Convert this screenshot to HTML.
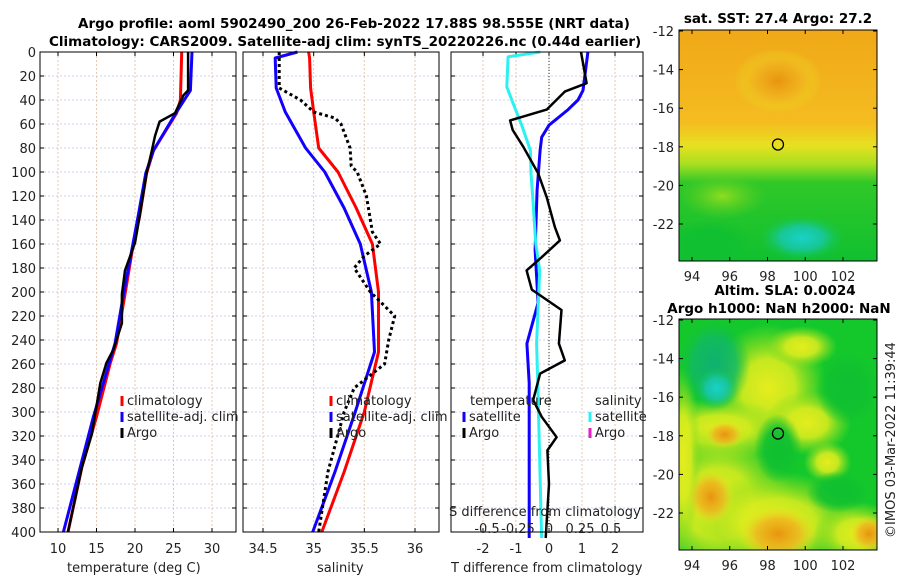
<!DOCTYPE html>
<html><head><meta charset="utf-8"><style>
body{margin:0;background:#fff}
svg{display:block;font-family:"DejaVu Sans","Liberation Sans",sans-serif}
</style></head><body>
<svg id="c" width="900" height="580" viewBox="0 0 900 580">
<defs>
<radialGradient id="cy" cx="0.5" cy="0.5" r="0.5"><stop offset="0" stop-color="#18d2c8"/><stop offset="0.5" stop-color="#18c8b0" stop-opacity="0.8"/><stop offset="1" stop-color="#10c848" stop-opacity="0"/></radialGradient>
<radialGradient id="te" cx="0.5" cy="0.5" r="0.5"><stop offset="0" stop-color="#10b070"/><stop offset="0.6" stop-color="#10b868" stop-opacity="0.8"/><stop offset="1" stop-color="#10c040" stop-opacity="0"/></radialGradient>
<radialGradient id="or" cx="0.5" cy="0.5" r="0.5"><stop offset="0" stop-color="#e8940e"/><stop offset="0.55" stop-color="#f0b420" stop-opacity="0.8"/><stop offset="1" stop-color="#e8e820" stop-opacity="0"/></radialGradient>
<radialGradient id="ye" cx="0.5" cy="0.5" r="0.5"><stop offset="0" stop-color="#e6ec1e"/><stop offset="0.45" stop-color="#d8ec1e" stop-opacity="0.9"/><stop offset="0.75" stop-color="#a0e020" stop-opacity="0.5"/><stop offset="1" stop-color="#80e020" stop-opacity="0"/></radialGradient>
<radialGradient id="lg" cx="0.5" cy="0.5" r="0.5"><stop offset="0" stop-color="#90dc20"/><stop offset="1" stop-color="#60d020" stop-opacity="0"/></radialGradient>
<radialGradient id="gr" cx="0.5" cy="0.5" r="0.5"><stop offset="0" stop-color="#10c030"/><stop offset="0.55" stop-color="#10c030" stop-opacity="0.9"/><stop offset="1" stop-color="#10c030" stop-opacity="0"/></radialGradient>
<linearGradient id="sst" x1="0" y1="0" x2="0" y2="1">
<stop offset="0" stop-color="#f0a818"/><stop offset="0.4" stop-color="#f4bc20"/><stop offset="0.5" stop-color="#e8e020"/><stop offset="0.58" stop-color="#a8e020"/><stop offset="0.66" stop-color="#30c828"/><stop offset="1" stop-color="#10c030"/></linearGradient>
</defs>
<g id="plots"></g>
</svg>
<script>
// ---- data ----
const depthTicks=[0,20,40,60,80,100,120,140,160,180,200,220,240,260,280,300,320,340,360,380,400];
const tTicks=[10,15,20,25,30];
const sTicks=[34.5,35,35.5,36];
const dTTicks=[-2,-1,0,1,2];
const dSTicks=[-0.5,-0.25,0,0.25,0.5];
const tClimDepth=[0,40,51,82,101,137,159,202,243,259,304,346,400];
const tClim=[26.07,25.9,25.4,22.4,21.5,20.6,19.8,18.7,17.6,16.8,15.0,13.1,11.3];
const tSatDepth=[0,32,51,82,101,137,202,243,304,400];
const tSat=[27.4,27.2,25.3,22.4,21.4,20.4,18.5,17.4,14.6,10.7];
const argoTDepth=[0,32,36,51,58,70,82,101,137,159,182,202,226,248,259,276,318,346,400];
const argoT=[26.9,26.9,26.3,25.2,23.2,22.6,22.2,21.5,20.6,20,18.7,18.3,18.3,17.2,16.3,15.5,14.4,13.1,11.3];
const sDepth=[0,5,30,50,80,100,130,160,200,250,300,350,400];
const sClim=[34.95,34.96,34.97,35.0,35.05,35.24,35.42,35.58,35.64,35.64,35.5,35.3,35.08];
const sSat=[34.84,34.62,34.63,34.72,34.92,35.11,35.3,35.46,35.57,35.6,35.41,35.21,34.99];
const argoSDepth=[0,30,40,50,55,60,80,95,100,120,150,160,170,180,190,200,210,220,240,260,280,300,350,400];
const argoS=[34.66,34.66,34.87,35.0,35.21,35.27,35.36,35.37,35.43,35.52,35.58,35.66,35.5,35.4,35.48,35.56,35.68,35.8,35.74,35.7,35.4,35.3,35.14,35.05];
const dTArgoDepth=[0,26,33,48,57,65,79,101,121,146,157,171,182,198,215,243,257,268,290,304,321,332,360,405];
const dTArgo=[0.97,1.14,0.48,-0.07,-1.18,-1.1,-0.78,-0.33,-0.07,0.18,0.33,-0.22,-0.68,-0.52,0.38,0.3,0.48,-0.27,-0.48,-0.22,0.23,-0.05,0,-0.1];
const dTSatDepth=[0,32,40,48,61,71,82,115,165,209,243,276,405];
const dTSat=[1.18,1.03,0.88,0.58,0,-0.22,-0.27,-0.36,-0.42,-0.33,-0.67,-0.6,-0.6];
const dSSatDepth=[0,4,29,40,61,82,101,123,159,182,243,276,405];
const dSSat=[-0.07,-0.33,-0.34,-0.30,-0.22,-0.15,-0.145,-0.13,-0.107,-0.075,-0.1,-0.09,-0.06];
const lonTicks=[94,96,98,100,102];
const latTicks=[-12,-14,-16,-18,-20,-22];
const argoLon=98.555, argoLat=-17.88;

const NS='http://www.w3.org/2000/svg';
const root=document.getElementById('plots');
function mk(tag,attrs,parent,txt){const e=document.createElementNS(NS,tag);for(const k in attrs)e.setAttribute(k,attrs[k]);if(txt!==undefined)e.textContent=txt;(parent||root).appendChild(e);return e;}
const Y0=52,Y1=532;
function yD(d){return Y0+(d/400)*(Y1-Y0);}
function lin(d0,d1,r0,r1){return v=>r0+(v-d0)/(d1-d0)*(r1-r0);}

function panel(name,x0,x1,xs,ticks,showY){
  const g=mk('g',{});
  
  
  depthTicks.forEach(d=>{mk('line',{x1:x0,x2:x1,y1:yD(d),y2:yD(d),stroke:'#c8d0f0','stroke-dasharray':'2,2','stroke-width':1},g);});
  ticks.forEach(t=>{mk('line',{x1:xs(t),x2:xs(t),y1:Y0,y2:Y1,stroke:'#e8c8b0','stroke-dasharray':'2,2','stroke-width':1},g);});
  depthTicks.forEach(d=>{mk('line',{x1:x0,x2:x0+4,y1:yD(d),y2:yD(d),stroke:'#000'},g);mk('line',{x1:x1,x2:x1-4,y1:yD(d),y2:yD(d),stroke:'#000'},g);
    if(showY){const t=mk('text',{x:x0-4,y:yD(d)+5,'text-anchor':'end','font-size':13,fill:'#222'},g,String(d));}});
  ticks.forEach(t=>{mk('line',{x1:xs(t),x2:xs(t),y1:Y1,y2:Y1-4,stroke:'#000'},g);mk('line',{x1:xs(t),x2:xs(t),y1:Y0,y2:Y0+4,stroke:'#000'},g);});
  return g;
}
function axisLabels(g,xs,ticks,y,label,ly){
  ticks.forEach(t=>{const e=mk('text',{x:xs(t),y:y,'text-anchor':'middle','font-size':13,fill:'#222'},g,String(t));});
  const e=mk('text',{x:0,y:ly,'font-size':13,fill:'#222'},g,label);return e;
}
function line(g,xs,vals,deps,color,w,dash,name){
  const p=vals.map((v,i)=>(i?'L':'M')+xs(v).toFixed(1)+','+yD(deps[i]).toFixed(1)).join('');
  const e=mk('path',{d:p,fill:'none',stroke:color,'stroke-width':w,'stroke-linejoin':'round'},g);
  if(dash)e.setAttribute('stroke-dasharray',dash);
  
}
function frame(g,x0,x1){mk('rect',{x:x0,y:Y0,width:x1-x0,height:Y1-Y0,fill:'none',stroke:'#000','stroke-width':1},g);}
function legend(g,x,y,color,text){
  const l=mk('line',{x1:x,x2:x,y1:y-9,y2:y+1,stroke:color,'stroke-width':3},g);
  
  const t=mk('text',{x:x+5,y:y,'font-size':13,fill:'#222'},g,text);
  
}

// panel 1 temperature
const xT=lin(10,30,58,212);
let g1=panel('temperature-panel',40,236,xT,tTicks,true);
line(g1,xT,tClim,tClimDepth,'#f00',3,null,'temp-climatology-line');
line(g1,xT,tSat,tSatDepth,'#10f',3,null,'temp-satellite-line');
line(g1,xT,argoT,argoTDepth,'#000',2.5,null,'temp-argo-line');
frame(g1,40,236);
axisLabels(g1,xT,tTicks,553,'temperature (deg C)',572).setAttribute('x',67);
legend(g1,122,405,'#f00','climatology');legend(g1,122,421,'#10f','satellite-adj. clim');legend(g1,122,437,'#000','Argo');

// panel 2 salinity
const xS=lin(34.5,36,263,415);
let g2=panel('salinity-panel',243,439,xS,sTicks,false);
line(g2,xS,sClim,sDepth,'#f00',3,null,'sal-climatology-line');
line(g2,xS,sSat,sDepth,'#10f',3,null,'sal-satellite-line');
line(g2,xS,argoS,argoSDepth,'#000',3,'3,3','sal-argo-line');
frame(g2,243,439);
axisLabels(g2,xS,sTicks,553,'salinity',572).setAttribute('x',317);
legend(g2,331,405,'#f00','climatology');legend(g2,331,421,'#10f','satellite-adj. clim');legend(g2,331,437,'#000','Argo');

// panel 3 differences
const xDT=lin(-2,2,483,615);
const xDS=lin(-0.5,0.5,487,611);
let g3=panel('difference-panel',451,643,xDT,dTTicks,false);
mk('line',{x1:xDT(0),x2:xDT(0),y1:Y0,y2:Y1,stroke:'#333','stroke-dasharray':'1,2'},g3);
line(g3,xDT,dTSat,dTSatDepth,'#10f',3,null,'dT-satellite-line');
line(g3,xDS,dSSat,dSSatDepth,'#2ef0f0',3,null,'dS-satellite-line');
line(g3,xDT,dTArgo,dTArgoDepth,'#000',2.5,null,'dT-argo-line');
frame(g3,451,643);
axisLabels(g3,xDT,dTTicks,553,'T difference from climatology',572).setAttribute('x',451);
axisLabels(g3,xDS,dSTicks,533,'S difference from climatology',516).setAttribute('x',449);
mk('text',{x:470,y:405,'font-size':13,fill:'#222'},g3,'temperature');
mk('text',{x:595,y:405,'font-size':13,fill:'#222'},g3,'salinity');
legend(g3,464,421,'#10f','satellite');legend(g3,464,437,'#000','Argo');
legend(g3,590,421,'#2ef0f0','satellite');legend(g3,590,437,'#e020c0','Argo');

// titles
mk('text',{x:78,y:28,'font-size':13.5,'font-weight':'bold',fill:'#000'},root,'Argo profile: aoml 5902490_200 26-Feb-2022 17.88S 98.555E (NRT data)');
mk('text',{x:49,y:46,'font-size':13.5,'font-weight':'bold',fill:'#000'},root,'Climatology: CARS2009. Satellite-adj clim: synTS_20220226.nc (0.44d earlier)');

// maps
const MX0=679,MX1=877;
const lonX=lin(94,102,692,843);
function map(name,top,bottom,kind){
  const g=mk('g',{});
  
  
  const latY=lin(-12,-22,top+1,top+194);
  const W=MX1-MX0,H=bottom-top;
  const clip='clip-'+kind;
  const cp=mk('clipPath',{id:clip},g);mk('rect',{x:MX0,y:top,width:W,height:H},cp);
  const f=mk('g',{'clip-path':'url(#'+clip+')'},g);
  const blob=(b,fill)=>mk('ellipse',{cx:MX0+b[0]*W,cy:top+b[1]*H,rx:b[2]*W,ry:b[3]*H,fill:fill},f);
  if(kind==='sst'){
    mk('rect',{x:MX0,y:top,width:W,height:H,fill:'url(#sst)'},f);
    blob([0.5,0.22,0.22,0.14],'url(#or)');
    blob([0.22,0.72,0.22,0.1],'url(#lg)');
    blob([0.15,0.92,0.22,0.1],'url(#gr)');
    blob([0.62,0.9,0.22,0.1],'url(#cy)');
  } else {
    mk('rect',{x:MX0,y:top,width:W,height:H,fill:'#14c82c'},f);
    [[0.45,0.3,0.3,0.28],[0.2,0.48,0.35,0.14],[0.65,0.45,0.22,0.14],[0.2,0.8,0.38,0.34],[0.5,0.88,0.42,0.22],[0.9,0.93,0.22,0.14],[0.75,0.62,0.12,0.09],[0.62,0.12,0.18,0.09],[0.02,0.6,0.09,0.4]].forEach(b=>blob(b,'url(#ye)'));
    [[0.5,0.56,0.12,0.15],[0.85,0.3,0.16,0.16],[0.8,0.75,0.16,0.09]].forEach(b=>blob(b,'url(#gr)'));
    blob([0.18,0.2,0.18,0.2],'url(#te)');
    blob([0.19,0.3,0.11,0.09],'url(#cy)');
    [[0.16,0.77,0.12,0.12],[0.5,0.93,0.2,0.12],[0.96,0.93,0.1,0.08],[0.23,0.5,0.1,0.06]].forEach(b=>blob(b,'url(#or)'));
  }
  mk('rect',{x:MX0,y:top,width:W,height:H,fill:'none',stroke:'#000'},g);
  latTicks.forEach(l=>{mk('line',{x1:MX0,x2:MX0+4,y1:latY(l),y2:latY(l),stroke:'#000'},g);mk('line',{x1:MX1,x2:MX1-4,y1:latY(l),y2:latY(l),stroke:'#000'},g);
    const t=mk('text',{x:MX0-5,y:latY(l)+5,'text-anchor':'end','font-size':13,fill:'#222'},g,String(l));});
  lonTicks.forEach(l=>{mk('line',{x1:lonX(l),x2:lonX(l),y1:bottom,y2:bottom-4,stroke:'#000'},g);mk('line',{x1:lonX(l),x2:lonX(l),y1:top,y2:top+4,stroke:'#000'},g);
    const t=mk('text',{x:lonX(l),y:bottom+20,'text-anchor':'middle','font-size':13,fill:'#222'},g,String(l));});
  const c=mk('circle',{cx:lonX(argoLon),cy:latY(argoLat),r:5.5,fill:'none',stroke:'#000','stroke-width':1.3},g);
  
}
map('sst-map',30,261,'sst');
map('sla-map',319,550,'sla');
mk('text',{x:778,y:23,'text-anchor':'middle','font-size':13.5,'font-weight':'bold'},root,'sat. SST: 27.4 Argo: 27.2');
mk('text',{x:785,y:295,'text-anchor':'middle','font-size':13.5,'font-weight':'bold'},root,'Altim. SLA: 0.0024');
mk('text',{x:779,y:313,'text-anchor':'middle','font-size':13.5,'font-weight':'bold'},root,'Argo h1000: NaN h2000: NaN');
const cr=mk('text',{x:0,y:0,'font-size':13,fill:'#222','text-anchor':'middle',transform:'translate(895,440) rotate(-90)'},root,'©IMOS 03-Mar-2022 11:39:44');

</script>
</body></html>
